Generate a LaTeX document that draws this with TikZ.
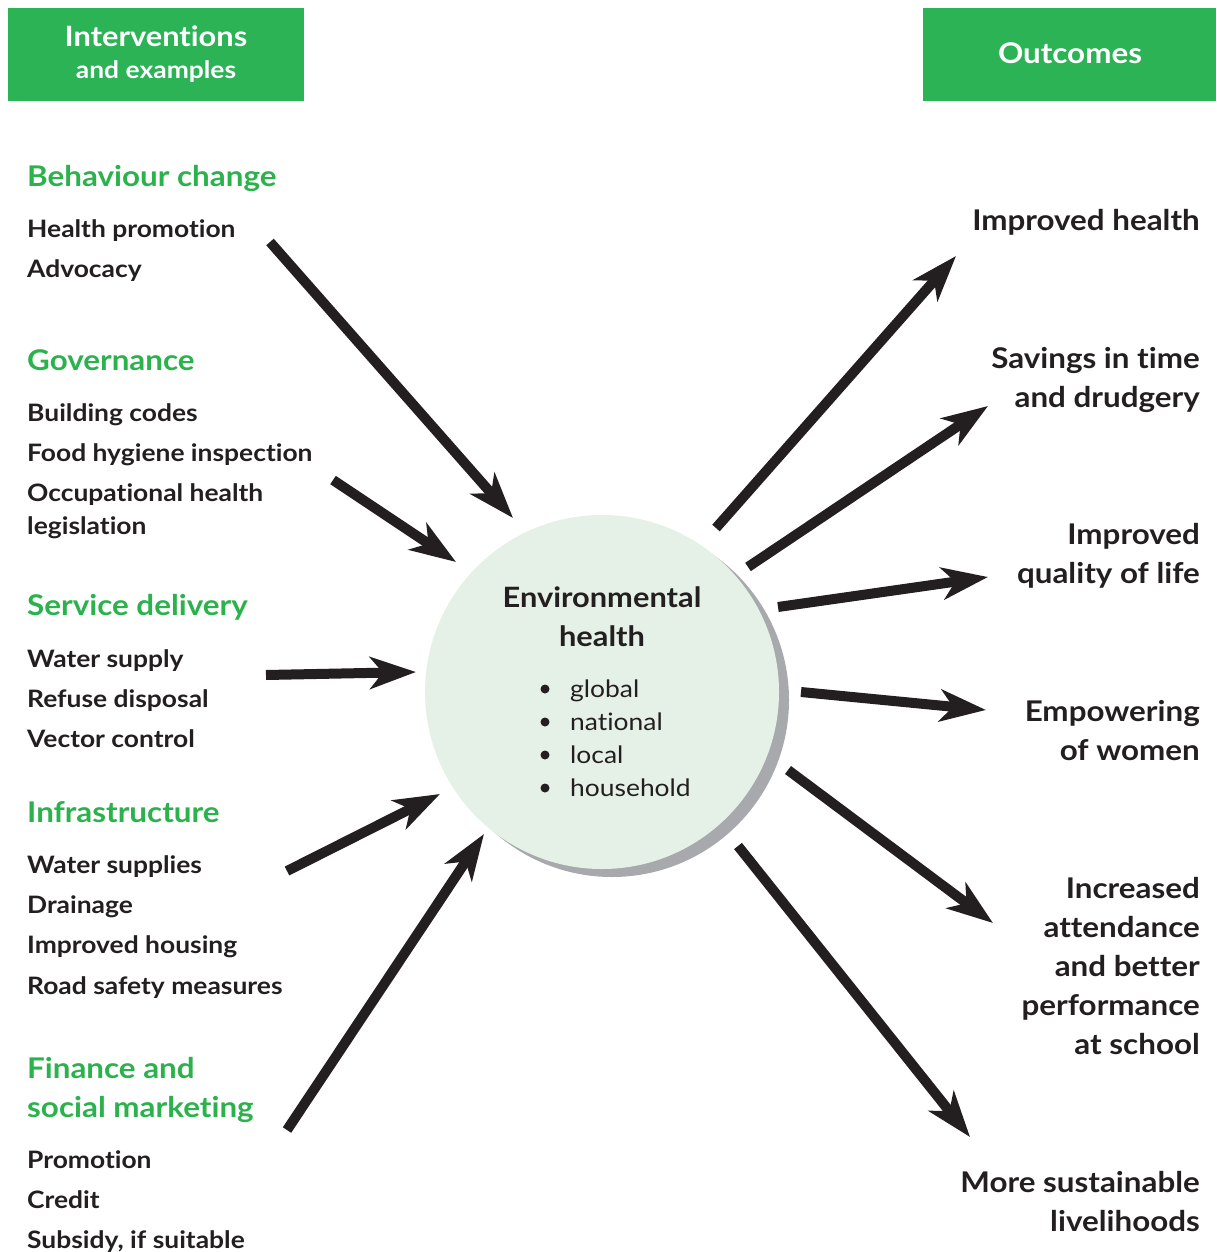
\documentclass[tikz,border=0pt]{standalone}
\usepackage{fontspec}
\setmainfont[FakeStretch=1.1,Ligatures=NoCommon]{Lato}
\usetikzlibrary{arrows.meta}
\definecolor{hdrgreen}{HTML}{2BB355}
\definecolor{txtgreen}{HTML}{2BB24C}
\definecolor{circfill}{HTML}{E5F1E6}
\definecolor{shadowgray}{HTML}{A7A9AC}
\definecolor{ink}{HTML}{231F20}
\begin{document}
\begin{tikzpicture}[x=1pt,y=-1pt,
  hdr/.style={fill=hdrgreen,draw=none,inner sep=0pt},
  hdrtext/.style={text=white,font=\bfseries\fontsize{28}{32}\selectfont,inner sep=0pt},
  cat/.style={text=txtgreen,font=\bfseries\fontsize{28.5}{32}\selectfont,anchor=base west,inner sep=0pt},
  item/.style={text=ink,font=\bfseries\fontsize{24}{27}\selectfont,anchor=base west,inner sep=0pt},
  outc/.style={text=ink,font=\bfseries\fontsize{28.5}{31}\selectfont,anchor=base east,inner sep=0pt},
  ctitle/.style={text=ink,font=\bfseries\fontsize{28}{32}\selectfont,anchor=base,inner sep=0pt},
  citem/.style={text=ink,font=\fontsize{24}{28}\selectfont,anchor=base west,inner sep=0pt},
  bul/.style={circle,fill=ink,inner sep=0pt,minimum size=9pt},
  arr/.style={draw=ink,line width=10pt,-{Stealth[length=46pt,width=32pt,inset=13pt]}}
]
\useasboundingbox (0,0) rectangle (1216,1252);
% headers
\node[hdr,minimum width=296pt,minimum height=93pt,anchor=north west] (hl) at (8,8) {};
\node[hdrtext] (hl1) at (156,36) {Interventions};
\node[hdrtext,font=\bfseries\fontsize{24}{28}\selectfont] (hl2) at (156,72) {and examples};
\node[hdr,minimum width=293pt,minimum height=93pt,anchor=north west] (hr) at (923,8) {};
\node[hdrtext,font=\bfseries\fontsize{28.5}{32}\selectfont] (hr1) at (1070,53) {Outcomes};
% circle
\fill[shadowgray] (612,700) circle (177);
\node[circle,fill=circfill,minimum size=354pt,inner sep=0pt] (eh) at (602,692) {};
\node[ctitle] (t1) at (602,607) {Environmental};
\node[ctitle] (t2) at (602,646) {health};
\foreach \y/\w [count=\i] in {697/global,730/national,763/local,796/household}{
  \node[bul] (b\i) at (545,\y-8) {};
  \node[citem] (c\i) at (570,\y) {\w};
}
% left texts
\node[cat] (g1) at (27,186) {Behaviour change};
\node[item] at (27,237) {Health promotion};
\node[item] at (27,277) {Advocacy};
\node[cat] (g2) at (27,370) {Governance};
\node[item] at (27,421) {Building codes};
\node[item] at (27,461) {Food hygiene inspection};
\node[item] at (27,501) {Occupational health};
\node[item] at (27,534) {legislation};
\node[cat] (g3) at (27,615) {Service delivery};
\node[item] at (27,667) {Water supply};
\node[item] at (27,707) {Refuse disposal};
\node[item] at (27,747) {Vector control};
\node[cat] (g4) at (27,822) {Infrastructure};
\node[item] at (27,873) {Water supplies};
\node[item] at (27,913) {Drainage};
\node[item] at (27,953) {Improved housing};
\node[item] at (27,994) {Road safety measures};
\node[cat] (g5) at (27,1078) {Finance and};
\node[cat] at (27,1117) {social marketing};
\node[item] at (27,1168) {Promotion};
\node[item] at (27,1208) {Credit};
\node[item] at (27,1248) {Subsidy, if suitable};
% right texts
\node[outc] (o1) at (1200,230) {Improved health};
\node[outc] (o2) at (1200,368) {Savings in time};
\node[outc] at (1200,407) {and drudgery};
\node[outc] (o3) at (1200,544) {Improved};
\node[outc] at (1200,583) {quality of life};
\node[outc] (o4) at (1200,721) {Empowering};
\node[outc] at (1200,760) {of women};
\node[outc] (o5) at (1200,898) {Increased};
\node[outc] at (1200,937) {attendance};
\node[outc] at (1200,976) {and better};
\node[outc] at (1200,1015) {performance};
\node[outc] at (1200,1054) {at school};
\node[outc] (o6) at (1200,1192) {More sustainable};
\node[outc] at (1200,1231) {livelihoods};
% arrow endpoints
\coordinate (a1s) at (270,242); \coordinate (a1e) at (513,518);
\coordinate (a2s) at (333,480); \coordinate (a2e) at (456,562);
\coordinate (a3s) at (266,675); \coordinate (a3e) at (416,672);
\coordinate (a4s) at (287,871); \coordinate (a4e) at (440,794);
\coordinate (a5s) at (287,1130); \coordinate (a5e) at (484,834);
\coordinate (b1s) at (716,528); \coordinate (b1e) at (956,256);
\coordinate (b2s) at (748,567); \coordinate (b2e) at (988,406);
\coordinate (b3s) at (778,607); \coordinate (b3e) at (988,577);
\coordinate (b4s) at (801,692); \coordinate (b4e) at (986,710);
\coordinate (b5s) at (788,770); \coordinate (b5e) at (993,923);
\coordinate (b6s) at (738,846); \coordinate (b6e) at (970,1137);
\foreach \p in {a1,a2,a3,a4,a5,b1,b2,b3,b4,b5,b6}{
  \draw[arr] (\p s) -- (\p e);
}
\end{tikzpicture}
\end{document}
